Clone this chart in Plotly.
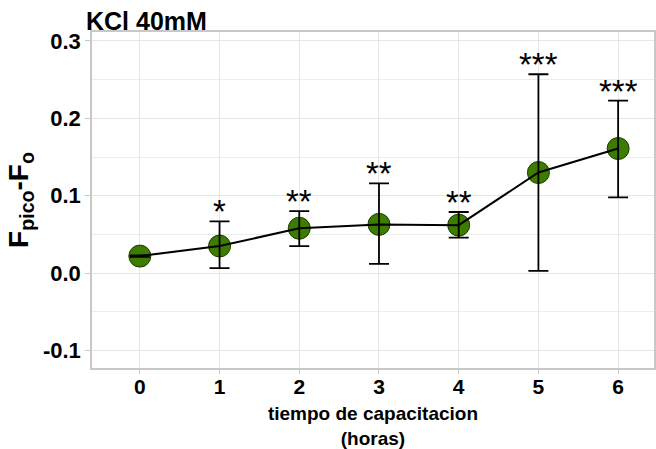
import plotly.graph_objects as go

horas = [0, 1, 2, 3, 4, 5, 6]
media = [0.022, 0.035, 0.058, 0.063, 0.062, 0.130, 0.161]
err_sup = [0.023, 0.067, 0.080, 0.116, 0.079, 0.257, 0.223]
err_inf = [0.021, 0.0065, 0.035, 0.012, 0.046, 0.003, 0.098]
signif = ["", "*", "**", "**", "**", "***", "***"]

plus = [s - m for s, m in zip(err_sup, media)]
minus = [m - i for m, i in zip(media, err_inf)]

FONT = "Liberation Sans, Arial, sans-serif"

fig = go.Figure()
fig.add_trace(go.Scatter(
    x=horas, y=media, mode="markers",
    marker=dict(size=22, color="#3c7d00", line=dict(color="#1d3a00", width=1)),
    showlegend=False, hoverinfo="skip"))
fig.add_trace(go.Scatter(
    x=horas, y=media, mode="lines",
    line=dict(color="black", width=2),
    error_y=dict(type="data", symmetric=False, array=plus, arrayminus=minus,
                 color="black", thickness=1.8, width=10),
    showlegend=False))

for h, s, t in zip(horas, signif, err_sup):
    if s:
        fig.add_annotation(x=h, y=t, text=s, showarrow=False,
                           yanchor="bottom", yshift=-11,
                           font=dict(family=FONT, size=33, color="black"))

fig.add_annotation(x=0, y=1, xref="paper", yref="paper", xshift=-8, yshift=-5,
                   text="<b>KCl 40mM</b>", showarrow=False, xanchor="left", yanchor="bottom",
                   font=dict(family=FONT, size=25, color="black"))

fig.update_layout(
    width=656, height=449,
    margin=dict(l=92, r=0, t=32, b=81),
    paper_bgcolor="white", plot_bgcolor="white",
    font=dict(family=FONT, color="black"),
)
fig.update_xaxes(
    range=[-0.6, 6.45], tickmode="array", tickvals=horas,
    ticktext=["<b>%d</b>" % h for h in horas],
    tickfont=dict(size=21, family=FONT, color="black"),
    ticklabelstandoff=-5,
    showgrid=True, gridcolor="#e6e6e6", gridwidth=1.2,
    showline=True, linecolor="#c8c8c8", linewidth=1.5, mirror=True,
    ticks="outside", ticklen=4, tickcolor="#c8c8c8", zeroline=False,
    title=dict(text="<b>tiempo de capacitacion<br>(horas)</b>",
               font=dict(size=19, family=FONT, color="black"), standoff=10),
)
fig.update_yaxes(
    range=[-0.1226, 0.3116], tickmode="array",
    tickvals=[-0.1, 0.0, 0.1, 0.2, 0.3],
    ticktext=["<b>-0.1</b>", "<b>0.0</b>", "<b>0.1</b>", "<b>0.2</b>", "<b>0.3</b>"],
    tickfont=dict(size=22, family=FONT, color="black"),
    showgrid=True, gridcolor="#e6e6e6", gridwidth=1.2,
    minor=dict(tickvals=[-0.05, 0.05, 0.15, 0.25], showgrid=True, gridcolor="#ececec", gridwidth=1),
    showline=True, linecolor="#c8c8c8", linewidth=1.5, mirror=True,
    ticks="outside", ticklen=5, tickcolor="#c8c8c8", zeroline=False,
    title=dict(text="<b>F<sub>pico</sub>-F<sub>o</sub></b>",
               font=dict(size=28, family=FONT, color="black"), standoff=6),
)

fig.write_html("out.html")
